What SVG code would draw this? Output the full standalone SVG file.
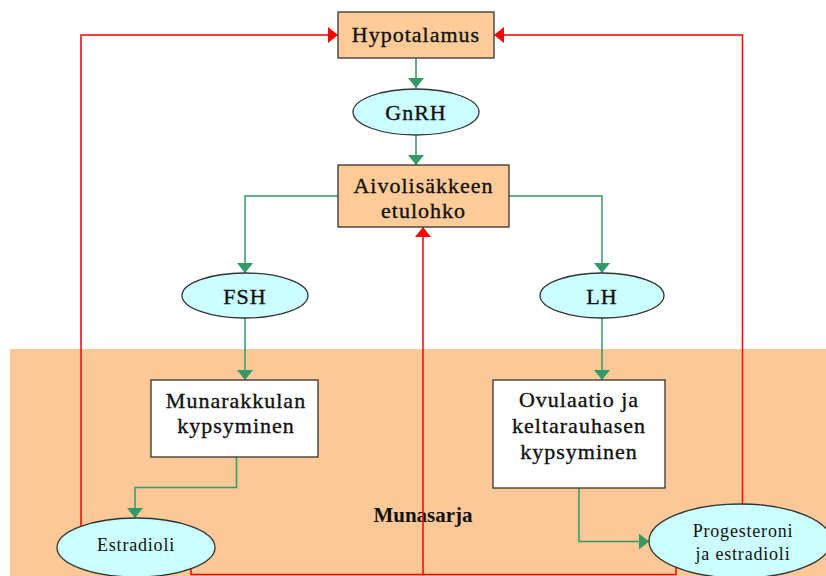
<svg xmlns="http://www.w3.org/2000/svg" width="826" height="576" viewBox="0 0 826 576">
<style>
.box{fill:#FFCC99;stroke:#333;stroke-width:1.3}
.wbox{fill:#FFFFFF;stroke:#333;stroke-width:1.3}
.ell{fill:#CCFFFF;stroke:#333;stroke-width:1.3}
.t{font-family:"Liberation Serif","Times New Roman",serif;font-size:22px;letter-spacing:1px;fill:#111;stroke:#111;stroke-width:0.35;text-anchor:middle}
.s{font-family:"Liberation Serif","Times New Roman",serif;font-size:18px;letter-spacing:0.8px;fill:#111;text-anchor:middle}
.g{fill:none;stroke:#339966;stroke-width:1.5}
.r{fill:none;stroke:#FF0000;stroke-width:1.5}
</style>
<defs>
<marker id="ag" markerUnits="userSpaceOnUse" markerWidth="12" markerHeight="18" refX="10" refY="8" orient="auto"><path d="M0,0 L10,8 L0,16 z" fill="#339966"/></marker>
<marker id="ar" markerUnits="userSpaceOnUse" markerWidth="12" markerHeight="18" refX="10" refY="8" orient="auto"><path d="M0,0 L10,8 L0,16 z" fill="#FF0000"/></marker>
</defs>
<rect x="10" y="349" width="816" height="227" fill="#FDC898"/>
<text x="423" y="522" font-family="'Liberation Serif','Times New Roman',serif" font-size="21" font-weight="bold" fill="#111" text-anchor="middle">Munasarja</text>
<g id="connectors">
<path class="g" d="M416,58 V88" marker-end="url(#ag)"/>
<path class="g" d="M416,135 V165" marker-end="url(#ag)"/>
<path class="g" d="M338,196 H245 V273" marker-end="url(#ag)"/>
<path class="g" d="M509,196 H602 V273" marker-end="url(#ag)"/>
<path class="g" d="M245,318 V380" marker-end="url(#ag)"/>
<path class="g" d="M602,318 V380" marker-end="url(#ag)"/>
<path class="g" d="M236.5,457 V487.5 H135 V518" marker-end="url(#ag)"/>
<path class="g" d="M579,488 V541.5 H649" marker-end="url(#ag)"/>
<path class="r" d="M81,526 V35 H338" marker-end="url(#ar)"/>
<path class="r" d="M742.5,504 V35 H494" marker-end="url(#ar)"/>
<path class="r" d="M191,569 V574.5 H676 V567"/>
<path class="r" d="M423,574.5 V227" marker-end="url(#ar)"/>
</g>
<g id="hypotalamus">
<rect class="box" x="338" y="12" width="156" height="46"/>
<text class="t" x="416" y="42">Hypotalamus</text>
</g>
<g id="gnrh">
<ellipse class="ell" cx="416" cy="112" rx="63" ry="23"/>
<text class="t" x="416" y="120">GnRH</text>
</g>
<g id="aivolisakkeen">
<rect class="box" x="338" y="165" width="171" height="62"/>
<text class="t" x="423.5" y="193">Aivolisäkkeen</text>
<text class="t" x="423.5" y="218">etulohko</text>
</g>
<g id="fsh">
<ellipse class="ell" cx="245" cy="295.5" rx="63" ry="22.5"/>
<text class="t" x="245" y="304">FSH</text>
</g>
<g id="lh">
<ellipse class="ell" cx="602" cy="295.5" rx="62" ry="22.5"/>
<text class="t" x="602" y="304">LH</text>
</g>
<g id="munarakkulan">
<rect class="wbox" x="151" y="380" width="167" height="77"/>
<text class="t" x="236" y="408">Munarakkulan</text>
<text class="t" x="236" y="433">kypsyminen</text>
</g>
<g id="ovulaatio">
<rect class="wbox" x="493" y="380" width="172" height="108"/>
<text class="t" x="579" y="407">Ovulaatio ja</text>
<text class="t" x="579" y="433">keltarauhasen</text>
<text class="t" x="579" y="459">kypsyminen</text>
</g>
<g id="estradioli">
<ellipse class="ell" cx="136" cy="547.5" rx="79" ry="29.5"/>
<text class="s" x="136" y="551">Estradioli</text>
</g>
<g id="progesteroni">
<ellipse class="ell" cx="740" cy="541" rx="91" ry="37"/>
<text class="s" x="743" y="537">Progesteroni</text>
<text class="s" x="743" y="560">ja estradioli</text>
</g>
</svg>
